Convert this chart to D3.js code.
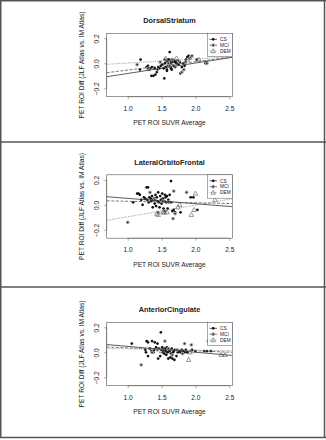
<!DOCTYPE html>
<html>
<head>
  <meta charset="utf-8">
  <script src="https://d3js.org/d3.v7.min.js"></script>
  <title>PET ROI Diff vs SUVR</title>
  <style>
    body { margin: 0; background: #fff; }
    text { font-family: "Liberation Sans", Arial, sans-serif; fill: #222; }
  </style>
</head>
<body>
<div class="chart"></div>
<script>
// panel titles and tick values
var titles = ["DorsalStriatum", "LateralOrbitoFrontal", "AnteriorCingulate"];
var xTicks = [1.0, 1.5, 2.0, 2.5];
var yTicks = [-0.2, 0.0, 0.2];
var groups = ["CS", "MCI", "DEM"];

// DorsalStriatum: [suvr, diff]
var dsCS = [[1.18,-0.05],[1.19,0.03],[1.28,-0.03],[1.30,-0.02],[1.31,-0.05],[1.33,-0.04],[1.35,-0.10],[1.36,-0.03],
  [1.38,-0.10],[1.40,-0.04],[1.41,-0.09],[1.43,-0.07],[1.45,-0.03],[1.47,-0.04],[1.49,-0.02],[1.51,-0.01],[1.53,-0.04],
  [1.54,-0.12],[1.55,0.00],[1.56,-0.03],[1.57,0.02],[1.58,-0.05],[1.58,-0.06],[1.59,0.01],[1.60,-0.02],[1.60,0.03],
  [1.61,0.03],[1.62,0.09],[1.62,-0.01],[1.63,0.00],[1.64,0.02],[1.64,-0.04],[1.65,-0.05],[1.66,0.01],[1.67,0.03],
  [1.68,-0.02],[1.69,0.02],[1.70,0.01],[1.72,0.00],[1.73,0.02],[1.75,-0.01],[1.77,0.01],[1.78,-0.08],[1.80,-0.03],
  [1.82,0.00],[1.84,-0.02],[1.86,0.03],[1.88,0.05],[1.90,0.06],[1.92,0.04],[2.02,0.03],[2.15,0.00],[2.16,0.01]];
var dsMCI = [[1.14,-0.01],[1.30,-0.04],[1.44,-0.05],[1.48,0.01],[1.55,0.03],[1.60,0.00],[1.62,-0.02],[1.66,0.03],
  [1.70,-0.03],[1.75,0.02],[1.80,-0.07],[1.83,-0.05],[1.85,0.01],[1.93,0.05],[1.95,0.06],[2.17,0.00]];
var dsDEM = [[1.56,0.04],[1.65,0.02],[1.72,0.04],[1.88,0.03],[2.05,0.03]];
var dsFit = [[-0.165,0.0836],[-0.1215,0.0674],[-0.031,0.033]];   // [intercept, slope] CS, MCI, DEM

// LateralOrbitoFrontal
var lofCS = [[1.08,0.02],[1.14,0.09],[1.16,0.09],[1.18,0.08],[1.20,0.04],[1.22,0.00],[1.24,0.06],[1.26,0.05],
  [1.28,0.14],[1.30,0.14],[1.29,0.04],[1.31,0.02],[1.32,0.06],[1.34,0.05],[1.35,0.03],[1.36,0.07],[1.37,-0.02],
  [1.38,0.04],[1.39,0.05],[1.40,0.01],[1.41,0.08],[1.42,-0.01],[1.43,0.06],[1.44,0.03],[1.45,0.10],[1.46,0.02],
  [1.47,-0.02],[1.48,0.07],[1.49,0.04],[1.50,0.01],[1.51,0.09],[1.52,0.05],[1.53,-0.03],[1.54,0.03],[1.55,0.08],
  [1.56,0.06],[1.57,0.02],[1.58,0.07],[1.59,-0.03],[1.60,0.04],[1.62,0.08],[1.64,0.19],[1.64,0.02],[1.66,-0.05],
  [1.68,-0.04],[1.70,-0.06],[1.78,-0.06],[1.93,0.06],[1.97,0.06],[2.03,-0.04]];
var lofMCI = [[1.00,-0.14],[1.33,0.10],[1.40,0.04],[1.45,-0.06],[1.52,0.03],[1.55,-0.05],[1.60,0.02],[1.67,-0.11],
  [1.68,0.11],[1.70,-0.07],[1.87,0.10]];
var lofDEM = [[1.43,-0.07],[1.45,-0.08],[1.52,-0.06],[1.54,-0.06],[1.58,-0.06],[1.74,-0.02],[1.77,0.00],[1.94,-0.08],
  [1.98,-0.04],[2.00,0.09],[2.29,0.04]];
var lofFit = [[0.0947,-0.0431],[0.0402,-0.0119],[-0.189,0.0933]];

// AnteriorCingulate
var acCS = [[1.06,0.07],[1.26,0.02],[1.27,0.00],[1.28,0.09],[1.30,0.08],[1.30,-0.03],[1.33,0.03],[1.35,0.01],
  [1.36,0.09],[1.38,0.00],[1.39,0.02],[1.40,0.08],[1.42,0.04],[1.44,0.07],[1.45,-0.05],[1.46,0.03],[1.48,-0.03],
  [1.49,0.16],[1.50,0.02],[1.51,0.04],[1.52,0.00],[1.53,0.02],[1.54,-0.01],[1.55,0.03],[1.56,0.01],[1.57,-0.02],
  [1.58,0.04],[1.59,0.00],[1.60,-0.05],[1.61,0.02],[1.62,0.01],[1.63,-0.04],[1.64,-0.01],[1.65,0.03],[1.66,-0.05],
  [1.67,0.00],[1.68,0.01],[1.69,-0.06],[1.70,0.02],[1.72,-0.03],[1.74,0.00],[1.76,0.01],[1.78,0.00],[1.80,0.02],
  [1.82,0.01],[1.84,0.00],[1.86,0.02],[1.88,0.00],[1.95,0.02],[2.00,0.01],[2.13,0.01],[2.17,0.01],[2.23,0.01]];
var acMCI = [[1.20,-0.10],[1.36,0.00],[1.44,0.02],[1.55,0.09],[1.60,0.03],[1.66,-0.02],[1.73,0.02],[1.81,-0.01],
  [1.84,0.07],[1.94,0.06],[2.19,0.09]];
var acDEM = [[1.50,0.01],[1.90,-0.06],[1.92,0.00],[2.38,-0.02],[2.44,-0.02]];
var acFit = [[0.0944,-0.0469],[0.059,-0.0232],[0.0367,-0.0097]];

var panels = [
  {title: titles[0], pts: [dsCS, dsMCI, dsDEM], fit: dsFit, oy: 0},
  {title: titles[1], pts: [lofCS, lofMCI, lofDEM], fit: lofFit, oy: 141.5},
  {title: titles[2], pts: [acCS, acMCI, acDEM], fit: acFit, oy: 289}
];

var W = 326, H = 440;
var svg = d3.select('.chart').append('svg').attr('width', W).attr('height', H);

// outer frames
var frameYs = [0.75, 142, 287, 437.5];
svg.selectAll('line.frame').data(frameYs).enter().append('line')
  .attr('x1', 0).attr('x2', W).attr('y1', function(d) { return d; }).attr('y2', function(d) { return d; })
  .attr('stroke', '#555').attr('stroke-width', 1.5);
[0.75, 324.5].forEach(function(x) {
  svg.append('line').attr('x1', x).attr('x2', x).attr('y1', 0).attr('y2', 438)
    .attr('stroke', '#555').attr('stroke-width', 1.5);
});

var x = d3.scaleLinear().domain([0.69, 2.545]).range([106.7, 232.3]);
var y = d3.scaleLinear().domain([-0.267, 0.24]).range([96.7, 33.3]);
var lineStyles = [
  {dash: null, color: '#333', w: 0.8},
  {dash: '3,1.6', color: '#555', w: 0.8},
  {dash: '0.8,1', color: '#888', w: 0.9}
];

function drawSymbol(g, gi, px, py) {
  if (gi === 0) {
    g.append('circle').attr('cx', px).attr('cy', py).attr('r', 1.35).attr('fill', '#111');
  } else if (gi === 1) {
    g.append('circle').attr('cx', px).attr('cy', py).attr('r', 1.9).attr('fill', '#aaa');
    g.append('circle').attr('cx', px).attr('cy', py).attr('r', 0.85).attr('fill', '#222');
  } else {
    g.append('path').attr('d', d3.symbol().type(d3.symbolTriangle).size(9)())
      .attr('transform', 'translate(' + px + ',' + (py + 0.3) + ')')
      .attr('fill', 'none').attr('stroke', '#555').attr('stroke-width', 0.6);
  }
}

panels.forEach(function(p) {
  var g = svg.append('g').attr('transform', 'translate(0,' + p.oy + ')');

  g.append('defs').append('clipPath').attr('id', 'clip' + p.oy)
    .append('rect').attr('x', x.range()[0]).attr('y', y.range()[1])
    .attr('width', x.range()[1] - x.range()[0]).attr('height', y.range()[0] - y.range()[1]);

  // title
  g.append('text').attr('x', 169.5).attr('y', 23.3).attr('text-anchor', 'middle')
    .style('font-size', '7.3px').style('font-weight', 'bold').text(p.title);

  // x axis
  var xa = g.append('g').attr('transform', 'translate(0,' + y.range()[0] + ')')
    .call(d3.axisBottom(x).tickValues(xTicks).tickFormat(d3.format('.1f')).tickSize(2.5).tickSizeOuter(0).tickPadding(6.8));
  xa.select('.domain').attr('d', 'M' + x(1.0) + ',0H' + x(2.5)).attr('stroke', '#555').attr('stroke-width', 0.5);
  xa.selectAll('.tick line').attr('stroke', '#555').attr('stroke-width', 0.5);
  xa.selectAll('text').style('font-size', '6.6px').style('font-family', '"Liberation Sans", Arial, sans-serif').attr('fill', '#222');

  // y axis, rotated labels like base R
  var ya = g.append('g').attr('transform', 'translate(' + x.range()[0] + ',0)')
    .call(d3.axisLeft(y).tickValues(yTicks).tickFormat(d3.format('.1f')).tickSize(2.5).tickSizeOuter(0));
  ya.select('.domain').attr('d', 'M0,' + y(-0.2) + 'V' + y(0.2)).attr('stroke', '#555').attr('stroke-width', 0.5);
  ya.selectAll('.tick line').attr('stroke', '#555').attr('stroke-width', 0.5);
  ya.selectAll('text').attr('transform', 'rotate(-90)').attr('x', 0).attr('y', -7.6).attr('dy', 0)
    .attr('text-anchor', 'middle').style('font-size', '6.6px')
    .style('font-family', '"Liberation Sans", Arial, sans-serif').attr('fill', '#222');

  // plot box
  g.append('rect').attr('x', x.range()[0]).attr('y', y.range()[1])
    .attr('width', x.range()[1] - x.range()[0]).attr('height', y.range()[0] - y.range()[1])
    .attr('fill', 'none').attr('stroke', '#555').attr('stroke-width', 0.6);

  // axis labels
  g.append('text').attr('x', 169.5).attr('y', 125.1).attr('text-anchor', 'middle')
    .style('font-size', '6.6px').text('PET ROI SUVR Average');
  g.append('text').attr('transform', 'translate(83.6,65) rotate(-90)').attr('text-anchor', 'middle')
    .style('font-size', '6.6px').text('PET ROI Diff (JLF Atlas vs. IM Atlas)');

  var plot = g.append('g').attr('clip-path', 'url(#clip' + p.oy + ')');

  // points
  p.pts.forEach(function(set, gi) {
    set.forEach(function(d) { drawSymbol(plot, gi, x(d[0]), y(d[1])); });
  });

  // fitted lines
  p.fit.forEach(function(f, gi) {
    var s = lineStyles[gi];
    var xs = x.domain();
    plot.append('line')
      .attr('x1', x(xs[0])).attr('y1', y(f[0] + f[1] * xs[0]))
      .attr('x2', x(xs[1])).attr('y2', y(f[0] + f[1] * xs[1]))
      .attr('stroke', s.color).attr('stroke-width', s.w)
      .attr('stroke-dasharray', s.dash);
  });

  // legend
  var lg = g.append('g');
  lg.append('rect').attr('x', 207.7).attr('y', y.range()[1])
    .attr('width', x.range()[1] - 207.7).attr('height', 23.4)
    .attr('fill', '#fff').attr('stroke', '#555').attr('stroke-width', 0.5);
  groups.forEach(function(name, gi) {
    var ly = 39.3 + gi * 5.9;
    var s = lineStyles[gi];
    lg.append('line').attr('x1', 209.5).attr('x2', 217).attr('y1', ly).attr('y2', ly)
      .attr('stroke', s.color).attr('stroke-width', s.w).attr('stroke-dasharray', s.dash);
    drawSymbol(lg, gi, 213.2, ly);
    lg.append('text').attr('x', 220).attr('y', ly + 1.7).style('font-size', '4.8px').text(name);
  });
});
</script>
</body>
</html>
